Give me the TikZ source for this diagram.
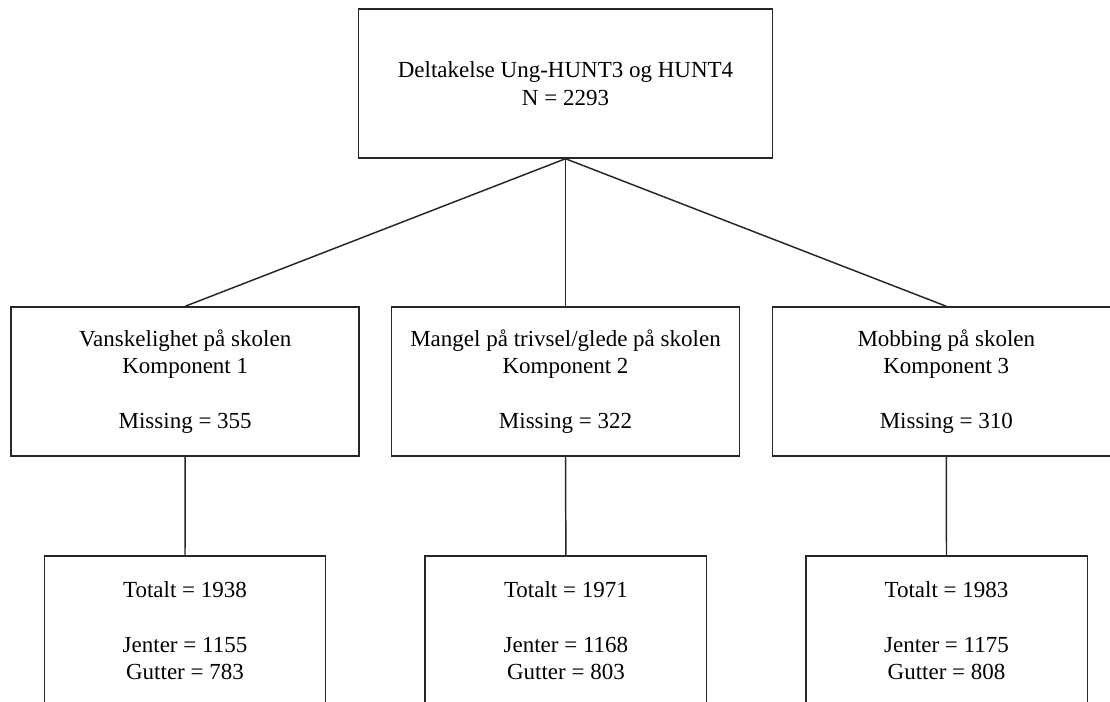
\documentclass[tikz,border=0pt]{standalone}
\usepackage{fontspec}
\setmainfont{Liberation Serif}
\begin{document}
\begin{tikzpicture}[x=0.75pt,y=-0.75pt,
  box/.style={draw=black!85,line width=1.1pt,rectangle,inner sep=0pt,align=center,
    minimum height=111.75pt,font=\fontsize{17.25}{20.6}\selectfont},
  topbox/.style={box,minimum width=310.8pt},
  midbox/.style={box,minimum width=261pt},
  botbox/.style={box,minimum width=211.1pt},
  conn/.style={draw=black!85,line width=1.1pt}]
\useasboundingbox (0,0) rectangle (1110,702);
\clip (0,0) rectangle (1110,702);
\node[topbox] (top) at (565.5,83.5) {Deltakelse Ung-HUNT3 og HUNT4\\N = 2293};
\node[midbox] (m1) at (185.2,381.5) {Vanskelighet på skolen\\Komponent 1\\[20.6pt]Missing = 355};
\node[midbox] (m2) at (565.5,381.5) {Mangel på trivsel/glede på skolen\\Komponent 2\\[20.6pt]Missing = 322};
\node[midbox] (m3) at (946.3,381.5) {Mobbing på skolen\\Komponent 3\\[20.6pt]Missing = 310};
\node[botbox] (b1) at (185,630.5) {Totalt = 1938\\[20.6pt]Jenter = 1155\\Gutter = 783};
\node[botbox] (b2) at (565.9,630.5) {Totalt = 1971\\[20.6pt]Jenter = 1168\\Gutter = 803};
\node[botbox] (b3) at (946.5,630.5) {Totalt = 1983\\[20.6pt]Jenter = 1175\\Gutter = 808};
\draw[conn] (top.south) -- (m1.north);
\draw[conn] (top.south) -- (m2.north);
\draw[conn] (top.south) -- (m3.north);
\draw[conn] (m1.south) -- (b1.north);
\draw[conn] (m2.south) -- (b2.north);
\draw[conn] (m3.south) -- (b3.north);
\end{tikzpicture}
\end{document}
